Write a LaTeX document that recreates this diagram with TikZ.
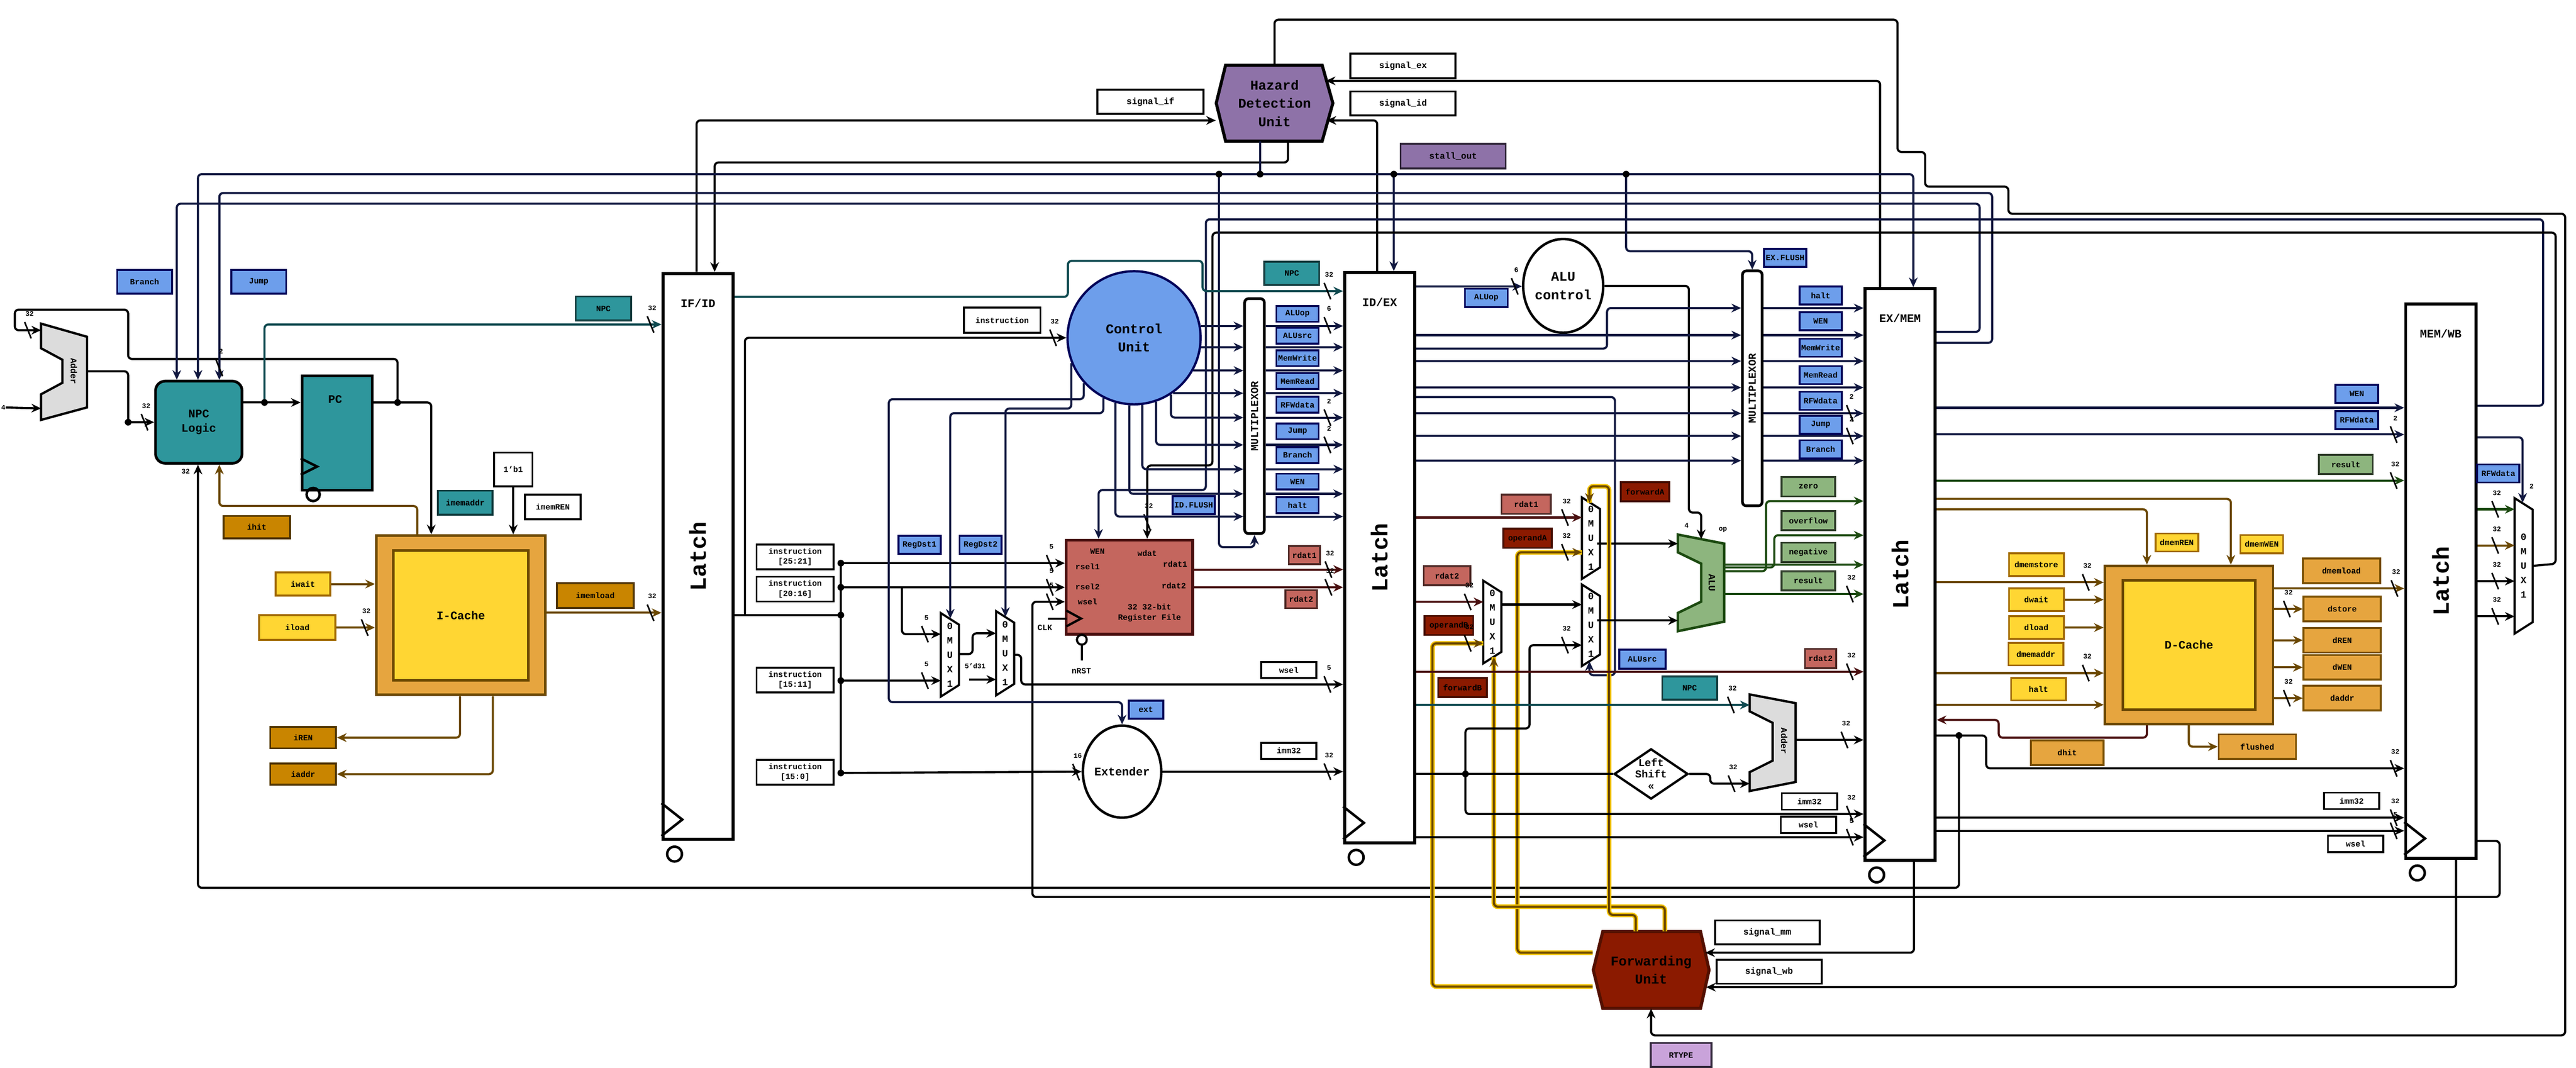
\documentclass[tikz,border=0pt]{standalone}
\usepackage{fontspec}
\setmainfont{Liberation Mono}
\usetikzlibrary{positioning,shapes.geometric,arrows.meta,calc}

\definecolor{cblue}{HTML}{6D9EEB}
\definecolor{cteal}{HTML}{2E969C}
\definecolor{cgold}{HTML}{C98500}
\definecolor{cyellow}{HTML}{FFD633}
\definecolor{ccache}{HTML}{E6A53F}
\definecolor{cred}{HTML}{C4665E}
\definecolor{cdark}{HTML}{8B1A00}
\definecolor{cgreen}{HTML}{8DB57E}
\definecolor{cpurple}{HTML}{8E72A8}
\definecolor{clilac}{HTML}{C9A3DA}
\definecolor{cgray}{HTML}{DCDCDC}
\definecolor{wnavy}{HTML}{111840}
\definecolor{wteal}{HTML}{0F4A50}
\definecolor{wbrown}{HTML}{6B4800}
\definecolor{wred}{HTML}{4A1010}
\definecolor{wgreen}{HTML}{1C4A10}
\definecolor{wfwd}{HTML}{F2C200}

\newcommand\unitfont{\fontsize{7}{9.5}\selectfont\bfseries}
\newcommand\unitsmall{\fontsize{6}{7.5}\selectfont\bfseries}

\tikzset{
  tag/.style={draw, line width=1pt, inner sep=0pt, minimum width=0.77cm,
    minimum height=0.33cm, font=\fontsize{4.2}{5}\selectfont\bfseries},
  tagB/.style={tag, fill=cblue, draw=blue!35!black},
  tagT/.style={tag, fill=cteal, draw=cteal!40!black},
  tagW/.style={tag, fill=white},
  tagO/.style={tag, fill=cgold, draw=cgold!40!black},
  tagY/.style={tag, fill=cyellow, draw=cgold!80!black},
  tagC/.style={tag, fill=ccache, draw=cgold!60!black},
  tagR/.style={tag, fill=cred, draw=cred!40!black},
  tagD/.style={tag, fill=cdark, draw=cdark!50!black},
  tagG/.style={tag, fill=cgreen, draw=cgreen!35!black},
  tagP/.style={tag, fill=cpurple, draw=cpurple!35!black},
  bwlabel/.style={font=\fontsize{3.6}{4}\selectfont\bfseries, inner sep=0pt},
  line/.style={line width=1.1pt, rounded corners=2pt},
  wire/.style={line, -{Stealth[length=5pt,width=4.5pt]}},
  fwdwire/.style={wire, draw=wbrown, preaction={draw=wfwd, line width=2.4pt, -}},
  dot/.style={circle, fill, inner sep=0pt, minimum size=3.5pt}
}

% bus width mark
\newcommand\bw[2]{\draw[line width=0.8pt] (#1) ++(-2,-5) -- ++(4,10);
  \node[bwlabel] at ($(#1)+(1,-10)$) {#2};}
% 2:1 mux
\newcommand\mux[4]{\draw[line width=1.1pt, fill=white] (#2,#3) -- ++(11,7)
  -- ({#2+11},{#4-7}) -- (#2,#4) -- cycle;
  \node[font=\fontsize{5}{7.5}\selectfont\bfseries, align=center, inner sep=0pt]
    (#1) at ({#2+5.5},{(#3+#4)/2}) {0\\M\\U\\X\\1};}
% pipeline latch
\newcommand\latch[5]{\node[draw, line width=1.6pt, fill=white, inner sep=0pt,
    minimum width=1.28cm, minimum height={(#4-#3)*0.03cm}, anchor=north west]
    (#1) at (#2,#3) {};
  \node[font=\unitsmall] at ($(#1.north)+(0,19)$) {#5};
  \node[rotate=90, font=\fontsize{12}{12}\selectfont\bfseries] at (#1.center) {Latch};
  \draw[line width=1.3pt] ($(#1.south west)+(0,-3)$) -- ++(12.7,-10) -- ++(-12.7,-10);
  \draw[line width=1.3pt] ($(#1.south west)+(8,8)$) circle (4.5);}

\begin{document}
\begin{tikzpicture}[x=0.03cm,y=-0.03cm]
\useasboundingbox (0,0) rectangle (1568,650);

%% ---------------- units
\draw[line width=1.2pt, fill=cgray] (25,197) -- (53,205) -- (53,248) -- (25,255.6)
  -- (25,240) -- (38,233) -- (38,219) -- (25,212) -- cycle;
\node[rotate=-90, font=\fontsize{4.5}{5}\selectfont\bfseries] (adderA) at (45,226) {Adder};
\node[draw, line width=1.4pt, rounded corners=5pt, fill=cteal, minimum width=1.58cm,
  minimum height=1.5cm, align=center, font=\unitsmall] (npc) at (121,257) {NPC\\Logic};
\node[draw, line width=1.4pt, fill=cteal, minimum width=1.28cm, minimum height=2.09cm,
  anchor=north west] (pc) at (183,228) {};
\node[font=\unitsmall] at (204,243) {PC};
\draw[line width=1.3pt] (183,279) -- (193,284) -- (183,289);
\draw[line width=1.3pt] (190.6,301) circle (4);
\node[draw=wbrown, line width=1.3pt, fill=ccache, minimum width=3.09cm,
  minimum height=2.91cm] (icache) at (280.5,374.5) {};
\node[draw=wbrown, line width=1.3pt, fill=cyellow, minimum width=2.46cm,
  minimum height=2.37cm, font=\unitsmall] at (icache.center) {I-Cache};

\latch{ifid}{402.6}{165.5}{510}{IF/ID}
\latch{idex}{817.5}{165}{512}{ID/EX}
\latch{exmem}{1134.3}{174.8}{522.7}{EX/MEM}
\latch{memwb}{1463.4}{184}{521.5}{MEM/WB}

\node[circle, draw=blue!35!black, line width=1.2pt, fill=cblue, minimum size=2.43cm,
  inner sep=0pt, align=center, font=\unitfont] (cu) at (690.3,205.6) {Control\\Unit};
\node[draw=wred, line width=1.4pt, fill=cred, minimum width=2.31cm,
  minimum height=1.72cm] (rf) at (687.5,357.4) {};
\begin{scope}[every node/.style={font=\fontsize{4.2}{5.5}\selectfont\bfseries, inner sep=0pt}]
  \node at (668,335.6) {WEN};    \node at (698.3,336.8) {wdat};
  \node at (662,345) {rsel1};    \node at (715.3,343.3) {rdat1};
  \node at (662,357) {rsel2};    \node at (714.5,356.4) {rdat2};
  \node at (662,366.3) {wsel};
  \node[align=center] at (699.7,373) {32 32-bit\\Register File};
  \node at (636,382) {CLK};      \node at (658.2,408.5) {nRST};
\end{scope}
\draw[line width=1.2pt] (649,371.6) -- (658,376.5) -- (649,381.3);
\draw[line width=1.1pt] (637.8,376.7) -- (649,376.7);
\draw[line width=1.1pt] (658.5,389.4) circle (3) (658.5,392.4) -- (658.5,402);

\node[draw, line width=1.4pt, rounded corners=2pt, fill=white, minimum width=0.36cm,
  minimum height=4.29cm] (idmux) at (763.6,253.3) {};
\node[rotate=90, font=\fontsize{5.5}{6}\selectfont\bfseries] at (idmux) {MULTIPLEXOR};
\node[draw, line width=1.4pt, rounded corners=2pt, fill=white, minimum width=0.36cm,
  minimum height=4.29cm] (exmux) at (1066.6,236.4) {};
\node[rotate=90, font=\fontsize{5.5}{6}\selectfont\bfseries] at (exmux) {MULTIPLEXOR};

\mux{mux1}{572.7}{373.2}{424}
\mux{mux2}{606.3}{372}{423.3}
\mux{muxC}{902.9}{353.5}{403.8}
\mux{muxA}{962.9}{302.8}{352.4}
\mux{muxB}{962.9}{355.8}{405.4}
\mux{muxF}{1530.6}{303.2}{385.7}

\node[ellipse, draw, line width=1.3pt, fill=white, minimum width=1.09cm,
  minimum height=1.68cm, inner sep=0pt, font=\unitsmall] (ext) at (683,469.7) {Extender};
\node[ellipse, draw, line width=1.3pt, fill=white, minimum width=1.09cm,
  minimum height=1.71cm, inner sep=0pt, align=center, font=\unitfont] (aluc) at (951.5,174) {ALU\\control};
\draw[line width=1.3pt, draw=wgreen, fill=cgreen] (1021.3,325.4) -- (1049.5,330.9)
  -- (1049.5,378.4) -- (1021.3,384.2) -- (1021.3,373.1) -- (1035.5,366.2)
  -- (1035.5,343.1) -- (1021.3,336.2) -- cycle;
\node[rotate=-90, font=\fontsize{5}{6}\selectfont\bfseries] (alu) at (1042,354.7) {ALU};
\draw[line width=1.2pt, fill=cgray] (1065,422.7) -- (1093,428) -- (1093,476) -- (1065,481.5)
  -- (1065,470) -- (1079,463) -- (1079,440) -- (1065,433) -- cycle;
\node[rotate=-90, font=\fontsize{4.5}{5}\selectfont\bfseries] (adderB) at (1086,451) {Adder};
\node[diamond, draw, line width=1.2pt, fill=white, shape aspect=1.2, minimum width=1.35cm,
  inner sep=-1pt, align=center, font=\fontsize{5.5}{6}\selectfont\bfseries] (lsh) at (1005,471.1) {Left\\Shift\\<<};

\node[draw=wbrown, line width=1.3pt, fill=ccache, minimum width=3.07cm,
  minimum height=2.89cm] (dcache) at (1332.4,392.6) {};
\node[draw=wbrown, line width=1.3pt, fill=cyellow, minimum width=2.42cm,
  minimum height=2.36cm, font=\unitsmall] at (dcache.center) {D-Cache};

\draw[line width=1.6pt, fill=cpurple] (746,39.7) -- (804.8,39.7) -- (811.3,62.8)
  -- (804.8,85.9) -- (746,85.9) -- (740.3,62.8) -- cycle;
\node[align=center, font=\unitfont, minimum width=2.13cm, minimum height=1.38cm,
  inner sep=0pt] (hdu) at (775.8,62.8) {Hazard\\Detection\\Unit};
\draw[line width=1.6pt, draw=cdark!60!black, fill=cdark] (975.6,567) -- (1035.1,567)
  -- (1040.3,590.4) -- (1035.1,613.8) -- (975.6,613.8) -- (969.8,590.4) -- cycle;
\node[align=center, font=\unitfont, minimum width=2.12cm, minimum height=1.4cm,
  inner sep=0pt] (fwd) at (1005,590.4) {Forwarding\\Unit};

%% ---------------- labels
\node[tagB, minimum width=1.0cm, minimum height=0.43cm] (tBranch) at (88,171.6) {Branch};
\node[tagB, minimum width=1.0cm, minimum height=0.43cm] (tJump) at (157.5,171.6) {Jump};
\node[tagT, minimum width=1.01cm, minimum height=0.44cm] at (367.3,187.8) {NPC};
\node[tagW, minimum width=0.7cm, minimum height=0.62cm] (t1b1) at (312.4,285.8) {1'b1};
\node[tagW, minimum width=1.02cm, minimum height=0.45cm] at (336.5,308.5) {imemREN};
\node[tagT, minimum width=1.0cm, minimum height=0.44cm] at (283.2,306) {imemaddr};
\node[tagO, minimum width=1.21cm, minimum height=0.41cm] at (156.3,320.9) {ihit};
\node[tagY, minimum width=1.0cm, minimum height=0.42cm] (tiwait) at (184.4,355.5) {iwait};
\node[tagY, minimum width=1.39cm, minimum height=0.45cm] (tiload) at (181,382) {iload};
\node[tagO, minimum width=1.2cm, minimum height=0.39cm] (tiREN) at (184.5,449) {iREN};
\node[tagO, minimum width=1.2cm, minimum height=0.39cm] (tiaddr) at (184.5,471.2) {iaddr};
\node[tagO, minimum width=1.4cm, minimum height=0.45cm] at (362.3,362.5) {imemload};

\node[tagW, minimum width=1.4cm, minimum height=0.46cm] at (610,194.9) {instruction};
\foreach \ty/\tb in {339/{[25:21]}, 358.6/{[20:16]}, 414/{[15:11]}, 470/{[15:0]}}
  \node[tagW, minimum width=1.41cm, minimum height=0.45cm, align=center,
    font=\fontsize{4.2}{5.2}\selectfont\bfseries] at (484,\ty) {instruction\\\tb};
\node[tagB] at (559.7,331.7) {RegDst1};
\node[tagB] at (596.9,331.7) {RegDst2};
\node[tagB] at (726.6,307.5) {ID.FLUSH};
\node[tagB, minimum width=0.63cm] at (697.5,432) {ext};
\node[tagT, minimum width=1.0cm, minimum height=0.42cm] at (786.3,166.4) {NPC};
\foreach \tn/\ty in {ALUop/191, ALUsrc/204.4, MemWrite/218, MemRead/231.9, RFWdata/246.4,
    Jump/262.5, Branch/277, WEN/293.2, halt/307.5}
  \node[tagB, minimum height=0.29cm] at (789.8,\ty) {\tn};
\node[tagR, minimum width=0.57cm] at (794,338) {rdat1};
\node[tagR, minimum width=0.57cm] at (792,364.7) {rdat2};
\node[tagW, minimum width=1.01cm, minimum height=0.29cm] at (784.5,407.8) {wsel};
\node[tagW, minimum width=1.01cm, minimum height=0.29cm] at (784.5,457) {imm32};

\node[tagB, minimum width=0.78cm] at (904.7,181.3) {ALUop};
\node[tagB] at (1086.6,157) {EX.FLUSH};
\foreach \tn/\ty in {halt/179.9, WEN/195.5, MemWrite/211.7, MemRead/228.3, RFWdata/244,
    Jump/258.5, Branch/273.5}
  \node[tagB] at (1108.2,\ty) {\tn};
\foreach \tn/\ty in {zero/296.3, overflow/316.9, negative/336.2, result/353.5}
  \node[tagG, minimum width=0.98cm, minimum height=0.35cm] at (1100.7,\ty) {\tn};
\node[tagR, minimum width=0.9cm, minimum height=0.35cm] at (929,307) {rdat1};
\node[tagD, minimum width=0.89cm, minimum height=0.35cm] at (929.8,327.7) {operandA};
\node[tagD, minimum width=0.89cm, minimum height=0.35cm] at (1001.3,299.3) {forwardA};
\node[tagR, minimum width=0.85cm, minimum height=0.35cm] at (880.8,350.5) {rdat2};
\node[tagD, minimum width=0.89cm, minimum height=0.35cm] at (881.9,380.7) {operandB};
\node[tagD, minimum width=0.89cm, minimum height=0.35cm] at (890.2,418.5) {forwardB};
\node[tagB, minimum width=0.85cm, minimum height=0.35cm] at (999.7,401.2) {ALUsrc};
\node[tagR, minimum width=0.57cm, minimum height=0.35cm] at (1108.2,400.8) {rdat2};
\node[tagT, minimum width=1.0cm, minimum height=0.42cm] at (1028.5,418.8) {NPC};
\node[tagW, minimum width=1.01cm, minimum height=0.3cm] at (1101.4,487.8) {imm32};
\node[tagW, minimum width=1.01cm, minimum height=0.3cm] at (1100.8,502) {wsel};

\node[tagB, minimum width=0.78cm] at (1434.6,239.7) {WEN};
\node[tagB, minimum width=0.78cm] at (1434.6,255.7) {RFWdata};
\node[tagG, minimum width=0.98cm, minimum height=0.35cm] at (1427.9,282.7) {result};
\node[tagY, minimum width=0.78cm] at (1325,330.2) {dmemREN};
\node[tagY, minimum width=0.78cm] at (1376.7,331.2) {dmemWEN};
\node[tagY, minimum width=1.0cm, minimum height=0.41cm] at (1239.5,343.7) {dmemstore};
\node[tagY, minimum width=1.0cm, minimum height=0.41cm] (tdwait) at (1239.5,365) {dwait};
\node[tagY, minimum width=1.0cm, minimum height=0.41cm] (tdload) at (1239.5,382) {dload};
\node[tagY, minimum width=1.0cm, minimum height=0.41cm] at (1239.2,398.2) {dmemaddr};
\node[tagY, minimum width=1.0cm, minimum height=0.41cm] at (1240.8,419.5) {halt};
\node[tagC, minimum width=1.41cm, minimum height=0.45cm] at (1425.2,347.5) {dmemload};
\node[tagC, minimum width=1.41cm, minimum height=0.45cm] (tdstore) at (1425.7,370.7) {dstore};
\node[tagC, minimum width=1.41cm, minimum height=0.45cm] (tdREN) at (1425.7,389.7) {dREN};
\node[tagC, minimum width=1.41cm, minimum height=0.45cm] (tdWEN) at (1425.7,406.2) {dWEN};
\node[tagC, minimum width=1.41cm, minimum height=0.45cm] (tdaddr) at (1425.7,425) {daddr};
\node[tagC, minimum width=1.41cm, minimum height=0.45cm] (tflushed) at (1374,454.5) {flushed};
\node[tagC, minimum width=1.33cm, minimum height=0.45cm] at (1258.3,458.2) {dhit};
\node[tagW, minimum width=1.01cm, minimum height=0.3cm] at (1431.4,487.5) {imm32};
\node[tagW, minimum width=1.01cm, minimum height=0.3cm] at (1433.8,513.7) {wsel};
\node[tagB, minimum width=0.77cm] at (1520.7,288.2) {RFWdata};

\node[tagW, minimum width=1.94cm, minimum height=0.44cm, font=\fontsize{4.6}{5}\selectfont\bfseries] at (700.3,62) {signal\_if};
\node[tagW, minimum width=1.92cm, minimum height=0.45cm, font=\fontsize{4.6}{5}\selectfont\bfseries] at (854,40.2) {signal\_ex};
\node[tagW, minimum width=1.92cm, minimum height=0.44cm, font=\fontsize{4.6}{5}\selectfont\bfseries] at (854,63) {signal\_id};
\node[tagP, minimum width=1.92cm, minimum height=0.45cm, font=\fontsize{4.6}{5}\selectfont\bfseries] at (884.5,95) {stall\_out};
\node[tagW, minimum width=1.91cm, minimum height=0.44cm, font=\fontsize{4.6}{5}\selectfont\bfseries] at (1075.7,567.6) {signal\_mm};
\node[tagW, minimum width=1.92cm, minimum height=0.44cm, font=\fontsize{4.6}{5}\selectfont\bfseries] at (1076.8,591.5) {signal\_wb};
\node[tagP, fill=clilac, minimum width=1.11cm, minimum height=0.44cm] at (1023.2,642.2) {RTYPE};

%% ---------------- IF stage wires
\node[bwlabel] (four) at (2,248) {4};
\draw[wire] (four) -- (25,248.6);
\draw[wire] (53,226) -- (78,226) -- (78,257) -- (npc.west);
\node[dot] at (78,257) {}; \bw{88,257}{32}
\draw[wire] (npc.east |- 0,245) -- (pc.west |- 0,245);
\draw[wire] (pc.east |- 0,245) -- (262.5,245) -- (icache.north -| 262.5,0);
\draw[wire] (242,245) -- (242,218.5) -- (78,218.5) -- (78,188.5) -- (9,188.5) -- (9,201) -- (25,201);
\node[dot] at (242,245) {}; \bw{17,201}{32}
\draw[wire, draw=wteal] (161,245) -- (161,197.5) -- (ifid.west |- 0,197.5);
\node[dot] at (161,245) {}; \bw{396,197.5}{32}
\draw[wire, draw=wbrown] (254,326) -- (254,308) -- (133.5,308) -- (npc.south -| 133.5,0);
\draw[wire] (1192.4,447.7) -- (1192.4,540.4) -- (120.5,540.4) -- (npc.south -| 120.5,0);
\node[dot] at (1192.4,447.7) {};
\node[bwlabel] at (113,287) {32};
\draw[wire] (t1b1) -- (t1b1 |- icache.north);
\draw[wire, draw=wbrown] (tiwait.east) -- (tiwait.east -| icache.west);
\draw[wire, draw=wbrown] (tiload.east) -- (tiload.east -| icache.west);
\bw{222,382}{32}
\draw[wire, draw=wbrown] (icache.south -| 280,0) -- (280,449) -- (tiREN.east);
\draw[wire, draw=wbrown] (icache.south -| 300,0) -- (300,471.2) -- (tiaddr.east);
\draw[wire, draw=wbrown] (icache.east |- 0,373) -- (ifid.west |- 0,373);
\bw{396,373}{32}

%% ---------------- hazard and feedback buses
\draw[wire] (hdu.south -| 784,0) -- (784,98.9) -- (435,98.9) -- (ifid.north -| 435,0);
\draw[wire] (ifid.north -| 424,0) -- (424,73.3) -- (hdu.west |- 0,73.3);
\draw[wire] (exmem.north -| 1144.4,0) -- (1144.4,49.2) -- (807,49.2);
\draw[wire] (idex.north -| 838.3,0) -- (838.3,73.3) -- (807.5,73.3);
\draw[wire, draw=wnavy] (hdu.south -| 767,0) -- (767,106) -- (120.5,106) -- (npc.north -| 120.5,0);
\draw[wire, draw=wnavy] (767,106) -- (848.4,106) -- (idex.north -| 848.4,0);
\draw[wire, draw=wnavy] (848.4,106) -- (1164.6,106) -- (exmem.north -| 1164.6,0);
\node[dot] at (767,106) {}; \node[dot] at (848.4,106) {};
\draw[wire, draw=wnavy] (exmem.east |- 0,202) -- (1205,202) -- (1205,124) -- (107.6,124)
  -- (npc.north -| 107.6,0);
\draw[wire, draw=wnavy] (exmem.east |- 0,208.7) -- (1212.6,208.7) -- (1212.6,117.5)
  -- (133.5,117.5) -- (npc.north -| 133.5,0);
\bw{133.5,224}{2}
\draw[wire, draw=wnavy] (memwb.east |- 0,247) -- (1548,247) -- (1548,133.5) -- (734,133.5)
  -- (734,298.3) -- (668.7,298.3) -- (rf.north -| 668.7,0);
\draw[wire] (muxF.center -| 1541.4,0) -- (1555.6,343.2) -- (1555.6,141.6) -- (738,141.6)
  -- (738,283.3) -- (698.3,283.3) -- (rf.north -| 698.3,0);
\bw{698.3,318}{32}
\draw[wire, draw=wnavy] (742,106) -- (742,333) -- (763.6,333) -- (idmux.south);
\draw[wire, draw=wnavy] (989.8,106) -- (989.8,152.9) -- (1066.5,152.9) -- (exmux.north);
\node[dot] at (742,106) {}; \node[dot] at (989.8,106) {};
\draw[wire] (hdu.north) -- (775.8,12) -- (1155,12) -- (1155,92.5) -- (1171.8,92.5)
  -- (1171.8,113.6) -- (1222.5,113.6) -- (1222.5,130.1) -- (1561.4,130.1)
  -- (1561.4,630.2) -- (1005,630.2) -- (fwd.south);

%% ---------------- ID stage wires
\draw[line] (ifid.east |- 0,374.4) -- (511.8,374.4);
\draw[wire] (453.4,374.4) -- (453.4,205.6) -- (cu.west);
\bw{641,205.6}{32}
\draw[line] (511.8,342.8) -- (511.8,470.5);
\foreach \yy in {342.8,357.5,374.4,414.3,470.5} \node[dot] at (511.8,\yy) {};
\draw[wire] (511.8,342.8) -- (rf.west |- 0,342.8); \bw{639,342.8}{5}
\draw[wire] (511.8,357.5) -- (rf.west |- 0,357.5); \bw{639,357.5}{5}
\draw[wire] (549,357.5) -- (549,386) -- (572.7,386); \bw{563,386}{5}
\draw[wire] (511.8,414.3) -- (572.7,414.3); \bw{563,414.3}{5}
\draw[wire] (584,398.1) -- (592,398.1) -- (592,385.5) -- (606.3,385.5);
\node[bwlabel] at (593.6,405.5) {5'd31};
\draw[wire] (590,413.6) -- (606.3,413.6);
\draw[wire] (617.6,398.6) -- (621.6,398.6) -- (621.6,416.6) -- (idex.west |- 0,416.6);
\bw{808,416.6}{5}
\draw[wire] (memwb.east |- 0,511.9) -- (1521.5,511.9) -- (1521.5,546) -- (628.4,546)
  -- (628.4,366.3) -- (rf.west |- 0,366.3);
\bw{639,366.3}{5}
\draw[wire] (511.8,470.5) -- (ext.west); \bw{655,470}{16}
\draw[wire] (ext.east) -- (idex.west |- ext.east); \bw{808,469.7}{32}
\draw[wire, draw=wred] (rf.east |- 0,346.7) -- (idex.west |- 0,346.7); \bw{808.6,346.7}{32}
\draw[wire, draw=wred] (rf.east |- 0,357.5) -- (idex.west |- 0,357.5); \bw{808.6,357.5}{32}
\draw[wire, draw=wteal] (ifid.east |- 0,180.7) -- (650,180.7) -- (650,158.8) -- (732,158.8)
  -- (732,177.2) -- (idex.west |- 0,177.2);
\bw{808,177.2}{32}
\foreach \a in {10.8,-8.8,-29.6,-55.6} {
  \draw[wire, draw=wnavy] (cu.\a) -- (cu.\a -| idmux.west);
  \draw[wire, draw=wnavy] (idmux.east |- cu.\a) -- (idex.west |- cu.\a);
}
\foreach \a/\yy in {-57.6/254.2, -71.7/270.8, -83.3/285.6, -94.7/300.6, -106.2/314.4} {
  \draw[wire, draw=wnavy] (cu.\a) -- (cu.\a |- 0,\yy) -- (idmux.west |- 0,\yy);
  \draw[wire, draw=wnavy] (idmux.east |- 0,\yy) -- (idex.west |- 0,\yy);
}
\bw{808,198}{6} \bw{808,254.2}{2} \bw{808,270.8}{2}
\draw[wire, draw=wnavy] (cu.-117.8) -- (cu.-117.8 |- 0,251.5) -- (578.4,251.5) -- (578.4,376.5);
\draw[wire, draw=wnavy] (cu.-158.6) -- (cu.-158.6 |- 0,248.7) -- (612,248.7) -- (612,375.5);
\draw[wire, draw=wnavy] (cu.-138.4) -- (cu.-138.4 |- 0,243) -- (541,243) -- (541,427.4)
  -- (683,427.4) -- (ext.north);

%% ---------------- EX stage wires
\draw[wire, draw=wnavy] (idex.east |- 0,174.3) -- (aluc.west |- 0,174.3); \bw{922,174.3}{6}
\draw[wire] (aluc.east) -- (1028,174) -- (1028,312) -- (1035.5,312) -- (1035.5,328.2);
\node[bwlabel] at (1026.6,320) {4}; \node[bwlabel] at (1048.7,322.4) {op};
\draw[wire, draw=wnavy] (idex.east |- 0,212.2) -- (978.2,212.2) -- (978.2,187.5) -- (exmux.west |- 0,187.5);
\foreach \yy in {204,219.8,235.9,251.6,265.4,280.4}
  \draw[wire, draw=wnavy] (idex.east |- 0,\yy) -- (exmux.west |- 0,\yy);
\foreach \yy in {187.5,204,219.8,235.9,251.6,265.4,280.4}
  \draw[wire, draw=wnavy] (exmux.east |- 0,\yy) -- (exmem.west |- 0,\yy);
\bw{1126,251.6}{2} \bw{1126,265.4}{2}
\draw[wire, draw=wnavy] (idex.east |- 0,241.7) -- (983,241.7) -- (983,411) -- (967.5,411) -- (967.5,402.5);
\draw[wire, draw=wred] (idex.east |- 0,315) -- (962.9,315); \bw{952.6,315}{32}
\draw[fwdwire] (fwd.west |- 0,579.9) -- (923.6,579.9) -- (923.6,336.2) -- (962.9,336.2);
\bw{952.6,336.2}{32}
\draw[wire] (972,330.9) -- (1021.3,330.9);
\draw[wire, draw=wred] (idex.east |- 0,366.4) -- (902.9,366.4); \bw{893.4,366.4}{32}
\draw[fwdwire] (fwd.west |- 0,600.5) -- (871.9,600.5) -- (871.9,391.6) -- (902.9,391.6);
\bw{893.4,391.6}{32}
\draw[fwdwire] (fwd.north -| 1013.4,0) -- (1013.4,551.9) -- (909.3,551.9) -- (909.3,400);
\draw[fwdwire] (fwd.north -| 995.7,0) -- (995.7,556.9) -- (979.4,556.9) -- (979.4,296)
  -- (967.5,296) -- (967.5,306);
\draw[wire] (913.6,368) -- (962.9,368);
\draw[wire] (892,471.1) -- (892,443.4) -- (931,443.4) -- (931,392.7) -- (962.9,392.7);
\bw{952.6,392.7}{32}
\draw[wire] (972,377.7) -- (1021.3,377.7);
\draw[wire, draw=wgreen] (1049.5,347.7) -- (1075,347.7) -- (1075,305) -- (exmem.west |- 0,305);
\draw[wire, draw=wgreen] (1049.5,345.4) -- (1080,345.4) -- (1080,325.8) -- (exmem.west |- 0,325.8);
\draw[wire, draw=wgreen] (1049.5,343.8) -- (exmem.west |- 0,343.8);
\draw[wire, draw=wgreen] (1049.5,361.6) -- (exmem.west |- 0,361.6); \bw{1126,361.6}{32}
\draw[wire, draw=wred] (idex.east |- 0,408.9) -- (exmem.west |- 0,408.9); \bw{1126,408.9}{32}
\draw[wire, draw=wteal] (idex.east |- 0,429.1) -- (1065,429.1); \bw{1053.6,429.1}{32}
\draw[line] (idex.east |- 0,471.1) -- (lsh.west);
\node[dot] at (892,471.1) {};
\draw[wire] (lsh.east) -- (1041,471.1) -- (1041,477) -- (1065,477); \bw{1054,477}{32}
\draw[wire] (1093,450.4) -- (exmem.west |- 0,450.4); \bw{1122.7,450.4}{32}
\draw[wire] (892,471.1) -- (892,495.5) -- (exmem.west |- 0,495.5); \bw{1126,495.5}{32}
\draw[wire] (idex.east |- 0,509.6) -- (exmem.west |- 0,509.6); \bw{1126,509.6}{5}
\draw[wire] (exmem.south -| 1165,0) -- (1165,579.9) -- (1038,579.9);
\draw[wire] (memwb.south -| 1495,0) -- (1495,600.9) -- (1038.5,600.9);

%% ---------------- MEM / WB wires
\draw[wire, draw=wnavy] (exmem.east |- 0,248.2) -- (memwb.west |- 0,248.2);
\draw[wire, draw=wnavy] (exmem.east |- 0,264.5) -- (memwb.west |- 0,264.5); \bw{1457,264.5}{2}
\draw[wire, draw=wgreen] (exmem.east |- 0,292.5) -- (memwb.west |- 0,292.5); \bw{1457,292.5}{32}
\draw[wire, draw=wbrown] (exmem.east |- 0,303.7) -- (1357.9,303.7) -- (dcache.north -| 1357.9,0);
\draw[wire, draw=wbrown] (exmem.east |- 0,310) -- (1306.8,310) -- (dcache.north -| 1306.8,0);
\draw[wire, draw=wbrown] (exmem.east |- 0,354.5) -- (dcache.west |- 0,354.5); \bw{1269.6,354.5}{32}
\draw[wire, draw=wbrown] (tdwait.east) -- (dcache.west |- tdwait.east);
\draw[wire, draw=wbrown] (tdload.east) -- (dcache.west |- tdload.east);
\draw[wire, draw=wbrown] (exmem.east |- 0,409.7) -- (dcache.west |- 0,409.7); \bw{1269.6,409.7}{32}
\draw[wire, draw=wbrown] (exmem.east |- 0,429) -- (dcache.west |- 0,429);
\draw[wire, draw=wred] (dcache.south -| 1306.8,0) -- (1306.8,449) -- (1216.6,449) -- (1216.6,438.2)
  -- (exmem.east |- 0,438.2);
\draw[wire, draw=wbrown] (dcache.south -| 1332.3,0) -- (1332.3,454.5) -- (tflushed.west);
\draw[wire, draw=wbrown] (dcache.east |- 0,358.2) -- (memwb.west |- 0,358.2); \bw{1457.5,358.2}{32}
\foreach \tt in {tdstore,tdREN,tdWEN,tdaddr}
  \draw[wire, draw=wbrown] (dcache.east |- \tt.west) -- (\tt.west);
\bw{1392,370.7}{32} \bw{1392,425}{32}
\draw[wire] (exmem.east |- 0,447.7) -- (1209,447.7) -- (1209,467.7) -- (memwb.west |- 0,467.7);
\bw{1457,467.7}{32}
\draw[wire] (exmem.east |- 0,497.7) -- (memwb.west |- 0,497.7); \bw{1457,497.7}{32}
\draw[wire] (exmem.east |- 0,505.7) -- (memwb.west |- 0,505.7); \bw{1457,505.7}{5}
\draw[wire, draw=wgreen] (memwb.east |- 0,310) -- (1530.6,310); \bw{1518.8,310}{32}
\draw[wire, draw=wbrown] (memwb.east |- 0,332) -- (1530.6,332); \bw{1518.8,332}{32}
\draw[wire] (memwb.east |- 0,353.7) -- (1530.6,353.7); \bw{1518.8,353.7}{32}
\draw[wire] (memwb.east |- 0,375.2) -- (1530.6,375.2); \bw{1518.8,375.2}{32}
\draw[wire, draw=wnavy] (memwb.east |- 0,266.2) -- (1535.5,266.2) -- (1535.5,306);
\node[bwlabel] at (1541,296) {2};
\end{tikzpicture}
\end{document}
